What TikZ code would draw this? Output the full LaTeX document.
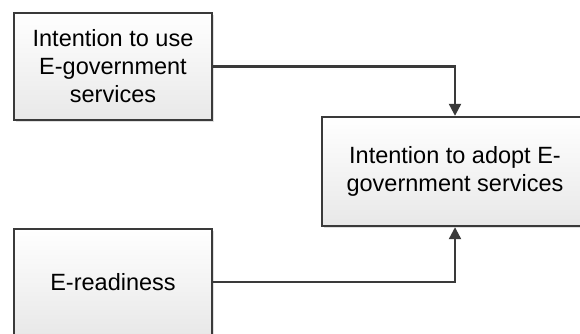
\documentclass[tikz,border=0pt]{standalone}
\usepackage{fontspec}
\setmainfont{Liberation Sans}
\usetikzlibrary{arrows.meta,shadows}
\definecolor{edge}{HTML}{3A3A3A}
\definecolor{boxbot}{HTML}{E8E8E8}
\tikzset{
  box/.style={draw=edge, line width=2.4pt, rectangle, align=center,
    top color=white, bottom color=boxbot, inner sep=0pt,
    font=\fontsize{23.5}{28}\selectfont,
    drop shadow={shadow xshift=2pt, shadow yshift=-2pt, opacity=0.25, fill=gray}},
  conn/.style={draw=edge, line width=2.2pt, -{Triangle[length=12pt,width=12pt]}}
}
\begin{document}
\begin{tikzpicture}[x=1pt,y=1pt]
\useasboundingbox (0,0) rectangle (580,-333);
\node[box, minimum width=198pt, minimum height=107pt] (b1) at (113,-66.5)
  {Intention to use\\E-government\\services};
\node[box, minimum width=266pt, minimum height=109pt] (b3) at (455,-171.5)
  {Intention to adopt E-\\government services};
\node[box, minimum width=198pt, minimum height=106pt] (b2) at (113,-282)
  {E-readiness};
\draw[conn] (b1.east) -| (b3.north);
\draw[conn] (b2.east) -| (b3.south);
\end{tikzpicture}
\end{document}
